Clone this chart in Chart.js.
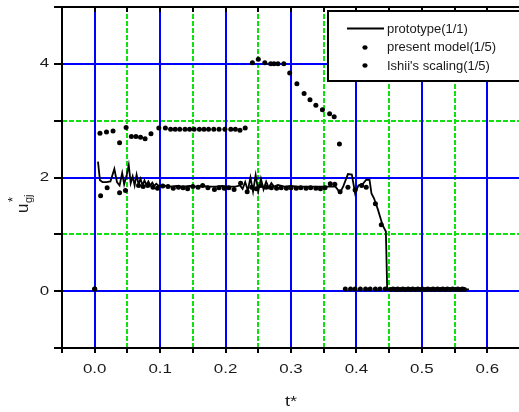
<!DOCTYPE html>
<html><head><meta charset="utf-8">
<script src="https://cdn.jsdelivr.net/npm/chart.js@4/dist/chart.umd.min.js"></script>
<style>html,body{margin:0;padding:0;overflow:hidden;background:#fff;width:519px;height:412px}
#wrap{position:relative;width:524px;height:412px}</style>
</head><body><div id="wrap"><canvas id="c" width="524" height="412"></canvas></div>
<script>
// ---- data ----
const protoT = [0.005,0.008,0.012,0.018,0.024,0.030,0.034,0.038,0.042,0.045,0.049,0.052,0.055,0.058,0.061,0.064,0.067,0.070,0.073,0.076,0.079,0.082,0.085,0.088,0.091,0.094,0.098,0.105,0.115,0.125,0.135,0.145,0.155,0.165,0.175,0.185,0.195,0.205,0.215,0.222,0.226,0.230,0.234,0.238,0.242,0.246,0.250,0.254,0.258,0.262,0.266,0.270,0.274,0.280,0.290,0.300,0.310,0.320,0.330,0.340,0.350,0.360,0.368,0.375,0.380,0.387,0.393,0.398,0.403,0.410,0.415,0.420,0.423,0.427,0.433,0.440,0.445,0.447,0.572];
const protoU = [2.28,1.95,1.92,1.92,1.93,2.15,1.92,1.86,2.08,1.88,2.05,2.22,1.90,2.02,1.86,2.05,1.88,1.98,1.86,1.95,1.87,1.93,1.86,1.91,1.85,1.89,1.85,1.86,1.84,1.85,1.84,1.85,1.84,1.85,1.84,1.84,1.85,1.84,1.84,1.86,1.80,1.92,1.77,2.00,1.75,2.04,1.76,1.98,1.79,1.93,1.82,1.90,1.84,1.87,1.84,1.85,1.84,1.84,1.84,1.84,1.84,1.84,1.84,1.73,1.85,2.06,2.05,1.72,1.86,1.89,1.96,1.96,1.72,1.63,1.43,1.16,1.05,0.03,0.03];

const modelT = [0.000,0.009,0.019,0.038,0.047,0.067,0.074,0.081,0.089,0.096,0.104,0.112,0.120,0.128,0.135,0.142,0.150,0.158,0.165,0.173,0.183,0.190,0.198,0.205,0.213,0.223,0.233,0.240,0.247,0.254,0.262,0.270,0.278,0.285,0.293,0.300,0.308,0.315,0.323,0.330,0.338,0.345,0.352,0.360,0.367,0.375,0.387,0.398,0.408,0.415,0.429,0.438,0.452,0.460,0.467,0.475,0.482,0.490,0.498,0.505,0.513,0.520,0.528,0.536,0.543,0.551,0.558,0.565];
const modelU = [0.04,1.68,1.82,1.73,1.77,1.86,1.84,1.86,1.83,1.81,1.85,1.84,1.81,1.83,1.82,1.80,1.84,1.83,1.86,1.82,1.79,1.82,1.81,1.82,1.79,1.90,1.75,1.83,1.80,1.86,1.83,1.82,1.81,1.82,1.81,1.82,1.81,1.82,1.81,1.82,1.81,1.80,1.82,1.89,1.88,1.75,1.83,1.78,1.86,1.83,1.54,1.17,0.03,0.03,0.03,0.03,0.03,0.03,0.03,0.03,0.03,0.03,0.03,0.03,0.03,0.03,0.03,0.03];

const ishiiT = [0.000,0.008,0.018,0.028,0.038,0.048,0.056,0.063,0.070,0.077,0.086,0.098,0.108,0.116,0.123,0.130,0.138,0.145,0.152,0.160,0.167,0.174,0.182,0.190,0.199,0.208,0.215,0.222,0.230,0.241,0.250,0.260,0.269,0.274,0.280,0.289,0.298,0.309,0.320,0.329,0.338,0.348,0.359,0.366,0.374,0.383,0.391,0.398,0.406,0.414,0.421,0.429,0.436,0.444,0.456,0.463,0.471,0.479,0.486,0.494,0.501,0.509,0.517,0.524,0.532,0.539,0.547,0.555,0.562];
const ishiiU = [0.04,2.78,2.80,2.82,2.61,2.88,2.72,2.72,2.71,2.68,2.77,2.87,2.87,2.85,2.85,2.85,2.85,2.85,2.85,2.85,2.85,2.85,2.85,2.85,2.85,2.85,2.85,2.83,2.87,4.02,4.08,4.02,4.00,4.00,4.00,4.00,3.84,3.65,3.48,3.37,3.27,3.19,3.12,3.07,2.59,0.04,0.04,0.04,0.04,0.04,0.04,0.04,0.04,0.04,0.04,0.04,0.04,0.04,0.04,0.04,0.04,0.04,0.04,0.04,0.04,0.04,0.04,0.04,0.04];

const xMajor = [0.0,0.1,0.2,0.3,0.4,0.5,0.6];
const xTickLabels = ['0.0','0.1','0.2','0.3','0.4','0.5','0.6'];
const xMinor = [0.05,0.15,0.25,0.35,0.45,0.55];
const yMajor = [0,2,4];
const yTickLabels = ['0','2','4'];
const yMinor = [1,3];
const legendLabels = ['prototype(1/1)','present model(1/5)',"Ishii's scaling(1/5)"];
const xTitle = 't*';
const yTitleMain = 'u', yTitleSup = '*', yTitleSub = 'gj';

const pts = (xs, ys) => xs.map((x, i) => ({x, y: ys[i]}));

const FONT = '"Liberation Sans", Arial, sans-serif';

function stretchText(ctx, text, cx, cy, sx, font) {
  ctx.save();
  ctx.font = font;
  ctx.translate(cx, cy);
  ctx.scale(sx, 1);
  ctx.textAlign = 'center';
  ctx.textBaseline = 'middle';
  ctx.fillText(text, 0, 0);
  ctx.restore();
}

const gridPlugin = {
  id: 'customGrid',
  beforeDraw(chart) {
    const ctx = chart.ctx;
    ctx.save(); ctx.fillStyle = '#fff'; ctx.fillRect(0, 0, chart.width, chart.height); ctx.restore();
  },
  beforeDatasetsDraw(chart) {
    const {ctx, chartArea: a, scales: {x, y}} = chart;
    ctx.save();
    ctx.lineWidth = 2;
    ctx.strokeStyle = '#10e010';
    ctx.setLineDash([5, 2]);
    xMinor.forEach(v => { const p = Math.round(x.getPixelForValue(v)); ctx.beginPath(); ctx.moveTo(p, a.top); ctx.lineTo(p, a.bottom); ctx.stroke(); });
    yMinor.forEach(v => { const p = Math.round(y.getPixelForValue(v)); ctx.beginPath(); ctx.moveTo(a.left, p); ctx.lineTo(a.right, p); ctx.stroke(); });
    ctx.setLineDash([]);
    ctx.strokeStyle = '#0000ff';
    xMajor.forEach(v => { const p = Math.round(x.getPixelForValue(v)); ctx.beginPath(); ctx.moveTo(p, a.top); ctx.lineTo(p, a.bottom); ctx.stroke(); });
    yMajor.forEach(v => { const p = Math.round(y.getPixelForValue(v)); ctx.beginPath(); ctx.moveTo(a.left, p); ctx.lineTo(a.right, p); ctx.stroke(); });
    ctx.restore();
  },
  afterDatasetsDraw(chart) {
    const {ctx, chartArea: a, scales: {x, y}} = chart;
    ctx.save();
    ctx.strokeStyle = '#000';
    ctx.lineWidth = 2;
    // frame
    ctx.beginPath();
    ctx.moveTo(a.right + 5, a.top); ctx.lineTo(a.left, a.top); ctx.lineTo(a.left, a.bottom); ctx.lineTo(a.right + 5, a.bottom);
    ctx.stroke();
    // x ticks (every 0.05)
    for (let k = -1; k <= 13; k++) {
      const v = k * 0.05;
      const p = Math.round(x.getPixelForValue(v));
      ctx.beginPath(); ctx.moveTo(p, a.bottom - 1); ctx.lineTo(p, a.bottom + 5); ctx.stroke();
      ctx.beginPath(); ctx.moveTo(p, a.top); ctx.lineTo(p, a.top + 5); ctx.stroke();
    }
    for (let v = -1; v <= 5; v++) {
      const p = Math.round(y.getPixelForValue(v));
      ctx.beginPath(); ctx.moveTo(a.left - 8, p); ctx.lineTo(a.left + 1, p); ctx.stroke();
    }
    // tick labels
    ctx.fillStyle = '#1a1a1a';
    xMajor.forEach((v, i) => stretchText(ctx, xTickLabels[i], x.getPixelForValue(v), a.bottom + 21, 1.3, '13px ' + FONT));
    yMajor.forEach((v, i) => stretchText(ctx, yTickLabels[i], 44.5, y.getPixelForValue(v), 1.3, '13px ' + FONT));
    // axis titles
    stretchText(ctx, xTitle, (x.getPixelForValue(0.3)), 402, 1.3, '14px ' + FONT);
    ctx.save();
    ctx.translate(28, 213);
    ctx.rotate(-Math.PI / 2);
    ctx.textBaseline = 'alphabetic';
    ctx.textAlign = 'left';
    ctx.font = '17px ' + FONT;
    ctx.fillText(yTitleMain, 0, 0);
    ctx.font = '13px ' + FONT;
    ctx.fillText(yTitleSup, 11, -11);
    ctx.font = '11px ' + FONT;
    ctx.fillText(yTitleSub, 10, 4);
    ctx.restore();
    // legend
    const lx = 328, ly = 11, lw = 200, lh = 70;
    ctx.fillStyle = '#fff';
    ctx.fillRect(lx, ly, lw, lh);
    ctx.strokeStyle = '#000'; ctx.lineWidth = 2;
    ctx.strokeRect(lx, ly, lw, lh);
    ctx.beginPath(); ctx.moveTo(347, 28.5); ctx.lineTo(384, 28.5); ctx.stroke();
    ctx.fillStyle = '#000';
    [47.5, 65.5].forEach(yy => { ctx.beginPath(); ctx.ellipse(365, yy, 2.6, 2.2, 0, 0, Math.PI * 2); ctx.fill(); });
    ctx.fillStyle = '#1a1a1a';
    ctx.font = '13px ' + FONT;
    ctx.textAlign = 'left'; ctx.textBaseline = 'middle';
    ctx.fillText(legendLabels[0], 387, 29);
    ctx.fillText(legendLabels[1], 387, 47.5);
    ctx.fillText(legendLabels[2], 387, 66);
    ctx.restore();
  }
};

new Chart(document.getElementById('c'), {
  type: 'scatter',
  data: {
    datasets: [
      {label: legendLabels[0], data: pts(protoT, protoU), showLine: true, borderColor: '#000', borderWidth: 1.8, pointRadius: 0, tension: 0},
      {label: legendLabels[1], data: pts(modelT, modelU), showLine: false, pointRadius: 2.5, pointBackgroundColor: '#000', pointBorderWidth: 0, pointBorderColor: '#000'},
      {label: legendLabels[2], data: pts(ishiiT, ishiiU), showLine: false, pointRadius: 2.5, pointBackgroundColor: '#000', pointBorderWidth: 0, pointBorderColor: '#000'}
    ]
  },
  options: {
    responsive: false,
    animation: false,
    devicePixelRatio: 1,
    layout: {padding: {top: 7, left: 0, right: 0, bottom: 0}},
    plugins: {legend: {display: false}, tooltip: {enabled: false}},
    scales: {
      x: {type: 'linear', min: -0.05, max: 0.65, ticks: {display: false}, grid: {display: false}, border: {display: false},
          afterFit(s) { s.height = 64; }},
      y: {type: 'linear', min: -1, max: 5, ticks: {display: false}, grid: {display: false}, border: {display: false},
          afterFit(s) { s.width = 62; }}
    }
  },
  plugins: [gridPlugin]
});
</script>
</body></html>
